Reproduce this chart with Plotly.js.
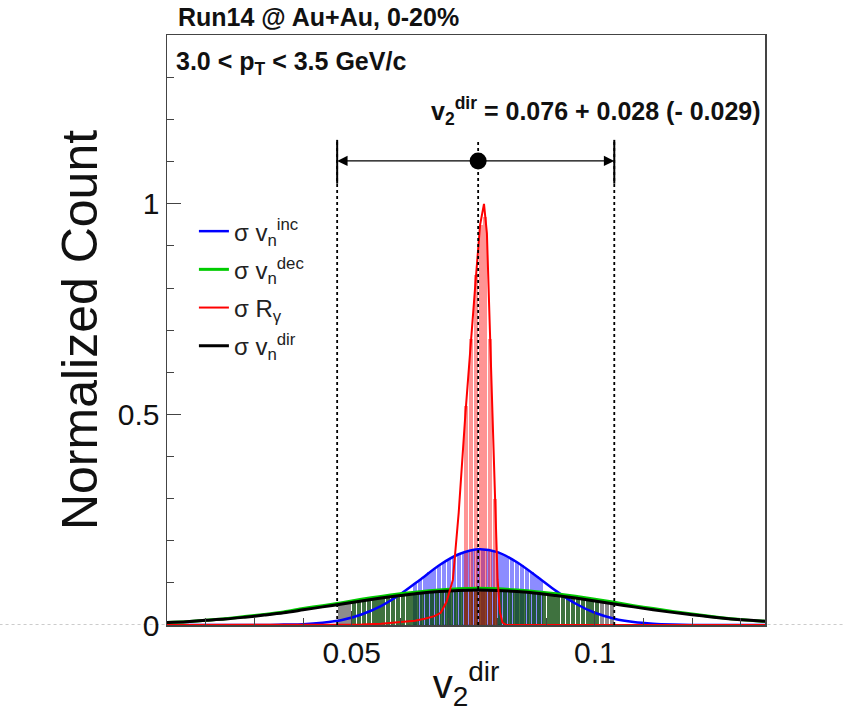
<!DOCTYPE html>
<html><head><meta charset="utf-8">
<script src="https://cdn.plot.ly/plotly-3.0.1.min.js"></script>
<style>body{margin:0;background:#fff}#chart{width:843px;height:717px}</style>
</head><body><div id="chart"></div>
<script>
// ---- data ----
const curveX = [0.012,0.016,0.020,0.024,0.028,0.032,0.036,0.040,0.044,0.048,0.052,0.056,0.060,0.064,0.068,0.072,0.076,0.080,0.084,0.088,0.092,0.096,0.100,0.104,0.108,0.112,0.116,0.120,0.124,0.128,0.132,0.136];
const dirCurve = [0.006,0.008,0.011,0.014,0.0185,0.0235,0.029,0.036,0.043,0.050,0.057,0.064,0.070,0.0756,0.0796,0.0822,0.083,0.0822,0.0796,0.0756,0.070,0.064,0.057,0.050,0.043,0.036,0.030,0.0245,0.019,0.0145,0.011,0.008];
const decCurve = [0.006,0.008,0.011,0.015,0.020,0.025,0.031,0.039,0.046,0.053,0.061,0.068,0.074,0.079,0.083,0.086,0.087,0.086,0.083,0.079,0.074,0.068,0.061,0.054,0.046,0.039,0.032,0.026,0.020,0.015,0.011,0.008];
const incX = [0.012,0.032,0.036,0.040,0.044,0.048,0.052,0.056,0.060,0.064,0.068,0.072,0.076,0.080,0.084,0.088,0.092,0.096,0.100,0.104,0.108,0.112,0.116,0.120,0.135];
const incCurve = [0,0,0.001,0.002,0.0055,0.012,0.025,0.045,0.073,0.107,0.142,0.168,0.180,0.173,0.149,0.116,0.081,0.051,0.029,0.015,0.007,0.003,0.001,0,0];
const rgX = [0.012,0.045,0.052,0.056,0.060,0.063,0.065,0.067,0.0683,0.0695,0.0708,0.0720,0.0734,0.0745,0.0755,0.0764,0.0772,0.0778,0.0784,0.0790,0.0796,0.0800,0.0805,0.0810,0.0818,0.135];
const rgCurve = [0,0,0.001,0.003,0.006,0.010,0.015,0.021,0.029,0.055,0.107,0.267,0.505,0.68,0.82,0.95,1.0,0.93,0.72,0.505,0.267,0.107,0.029,0.006,0,0];

// histogram bins (filled region)
const dirBinX = [0.0475,0.0485,0.0495,0.0505,0.0515,0.0525,0.0535,0.0545,0.0555,0.0565,0.0575,0.0585,0.0595,0.0605,0.0615,0.0625,0.0635,0.0645,0.0655,0.0665,0.0675,0.0685,0.0695,0.0705,0.0715,0.0725,0.0735,0.0745,0.0755,0.0765,0.0775,0.0785,0.0795,0.0805,0.0815,0.0825,0.0835,0.0845,0.0855,0.0865,0.0875,0.0885,0.0895,0.0905,0.0915,0.0925,0.0935,0.0945,0.0955,0.0965,0.0975,0.0985,0.0995,0.1005,0.1015,0.1025,0.1035];
const dirBinY = [0.049,0.051,0.053,0.054,0.056,0.058,0.060,0.061,0.063,0.065,0.066,0.068,0.070,0.071,0.072,0.074,0.075,0.076,0.077,0.078,0.079,0.080,0.081,0.081,0.082,0.082,0.083,0.083,0.083,0.083,0.083,0.083,0.082,0.082,0.081,0.081,0.080,0.079,0.078,0.077,0.076,0.075,0.074,0.072,0.071,0.070,0.068,0.066,0.065,0.063,0.061,0.060,0.058,0.056,0.054,0.053,0.051];
const decBinX = [0.0505,0.0515,0.0525,0.0535,0.0545,0.0555,0.0565,0.0575,0.0585,0.0595,0.0605,0.0615,0.0625,0.0635,0.0645,0.0655,0.0665,0.0675,0.0685,0.0695,0.0705,0.0715,0.0725,0.0735,0.0745,0.0755,0.0765,0.0775,0.0785,0.0795,0.0805,0.0815,0.0825,0.0835,0.0845,0.0855,0.0865,0.0875,0.0885,0.0895,0.0905,0.0915,0.0925,0.0935,0.0945,0.0955,0.0965,0.0975,0.0985,0.0995,0.1005];
const decBinY = [0.058,0.060,0.062,0.064,0.065,0.067,0.069,0.070,0.072,0.074,0.075,0.076,0.078,0.079,0.080,0.081,0.082,0.083,0.084,0.085,0.085,0.086,0.086,0.087,0.087,0.087,0.087,0.087,0.087,0.086,0.086,0.085,0.085,0.084,0.083,0.082,0.081,0.080,0.079,0.078,0.076,0.075,0.074,0.072,0.070,0.069,0.067,0.065,0.064,0.062,0.060];
const incBinX = [0.063,0.064,0.065,0.066,0.067,0.068,0.069,0.070,0.071,0.072,0.073,0.074,0.075,0.076,0.077,0.078,0.079,0.080,0.081,0.082,0.083,0.084,0.085,0.086,0.087,0.088,0.089];
const incBinY = [0.099,0.107,0.116,0.125,0.134,0.142,0.149,0.157,0.163,0.168,0.173,0.176,0.179,0.180,0.180,0.179,0.176,0.173,0.168,0.163,0.157,0.149,0.142,0.134,0.125,0.116,0.107];
const rgBinX = [0.0735,0.0745,0.0755,0.0765,0.0775,0.0785,0.0795];
const rgBinY = [0.52,0.68,0.83,0.95,0.97,0.68,0.30];

// result
const v2dir = 0.076, errPlus = 0.028, errMinus = 0.029;
const arrowLevel = 1.102;

const legendNames = ['σ v<sub>n</sub><sup>inc</sup>','σ v<sub>n</sub><sup>dec</sup>','σ R<sub>γ</sub>','σ v<sub>n</sub><sup>dir</sup>'];

// ---- traces ----
const BW = 0.00084;
const bar = (x, y, color) => ({type:'bar', x, y, width:BW, marker:{color, line:{width:0}}, showlegend:false, hoverinfo:'skip'});
const line = (x, y, color, w, name, rank, shape) => ({type:'scatter', mode:'lines', x, y, name, legendrank:rank, legendgroup:name,
  line:{color, width:w, shape:shape||'spline', smoothing:0.8}});

const lo = v2dir - errMinus, hi = v2dir + errPlus;
const traces = [
  bar(incBinX, incBinY, 'rgba(0,0,255,0.45)'),
  bar(decBinX, decBinY, 'rgba(0,170,0,0.55)'),
  bar(dirBinX, dirBinY, 'rgba(0,0,0,0.45)'),
  bar(rgBinX, rgBinY, 'rgba(255,0,0,0.42)'),
  line(incX, incCurve, '#0000ff', 2.5, legendNames[0], 1),
  line(curveX, decCurve, '#00cc00', 3, legendNames[1], 2),
  line(curveX, dirCurve, '#000000', 3, legendNames[3], 4),
  line(rgX, rgCurve, '#ff0000', 2, legendNames[2], 3, 'linear'),
  {type:'scatter', mode:'markers', x:[v2dir], y:[arrowLevel], marker:{color:'#000', size:17}, showlegend:false, hoverinfo:'skip', cliponaxis:false}
];

const F = 'Liberation Sans, Arial, Helvetica, sans-serif';
const dotted = {color:'#000', width:1.8, dash:'dot'};
const shapes = [
  {type:'line', xref:'paper', yref:'y', x0:-0.28, x1:1.13, y0:0, y1:0, line:{color:'#999', width:1, dash:'dot'}, layer:'below'},
  {type:'line', xref:'x', yref:'y', x0:lo, x1:lo, y0:0, y1:1.152, line:dotted},
  {type:'line', xref:'x', yref:'y', x0:hi, x1:hi, y0:0, y1:1.152, line:dotted},
  {type:'line', xref:'x', yref:'y', x0:v2dir, x1:v2dir, y0:0, y1:1.152, line:dotted},
  {type:'line', xref:'x', yref:'y', x0:lo, x1:lo, y0:1.048, y1:1.152, line:{color:'#000', width:2}},
  {type:'line', xref:'x', yref:'y', x0:hi, x1:hi, y0:1.048, y1:1.152, line:{color:'#000', width:2}}
];
const annotations = [
  {x:lo, y:arrowLevel, ax:v2dir, ay:arrowLevel, xref:'x', yref:'y', axref:'x', ayref:'y', text:'', showarrow:true, arrowhead:2, arrowsize:1.6, arrowwidth:1.3, arrowcolor:'#000'},
  {x:hi, y:arrowLevel, ax:v2dir, ay:arrowLevel, xref:'x', yref:'y', axref:'x', ayref:'y', text:'', showarrow:true, arrowhead:2, arrowsize:1.6, arrowwidth:1.3, arrowcolor:'#000'},
  {xref:'paper', yref:'paper', x:0.015, y:1.03, xanchor:'left', yanchor:'middle', showarrow:false, text:'<b>Run14 @ Au+Au, 0-20%</b>', font:{family:F, size:25, color:'#111'}},
  {xref:'paper', yref:'paper', x:0.012, y:0.953, xanchor:'left', yanchor:'middle', showarrow:false, text:'<b>3.0 &lt; p<sub>T</sub> &lt; 3.5 GeV/c</b>', font:{family:F, size:25, color:'#111'}},
  {xref:'paper', yref:'paper', x:0.997, y:0.872, xanchor:'right', yanchor:'middle', showarrow:false, text:'<b>v<sub>2</sub><sup>dir</sup> = 0.076 + 0.028 (- 0.029)</b>', font:{family:F, size:25, color:'#111'}}
];

const layout = {
  width:843, height:717,
  margin:{l:167, r:78, t:35, b:92},
  paper_bgcolor:'#fff', plot_bgcolor:'#fff',
  barmode:'overlay', bargap:0,
  showlegend:true,
  legend:{x:0.045, y:0.705, xanchor:'left', yanchor:'top', bgcolor:'rgba(0,0,0,0)', font:{family:F, size:24, color:'#222'}, itemwidth:30, tracegroupgap:4},
  font:{family:F, color:'#111'},
  xaxis:{range:[0.012,0.135], showline:true, linecolor:'#444', linewidth:1.5, mirror:true, showgrid:false, zeroline:false,
    tickmode:'array', tickvals:[0.05,0.1], ticktext:['0.05','0.1'], ticks:'inside', ticklen:14, tickcolor:'#444', tickfont:{family:F, size:30, color:'#111'},
    minor:{dtick:0.01, tick0:0, ticks:'inside', ticklen:7, tickcolor:'#444'},
    title:{text:'v<sub>2</sub><sup>dir</sup>', font:{family:F, size:40, color:'#111'}, standoff:2}},
  yaxis:{range:[0,1.401], showline:true, linecolor:'#444', linewidth:1.5, mirror:true, showgrid:false, zeroline:false,
    tickmode:'array', tickvals:[0,0.5,1], ticktext:['0','0.5','1'], ticks:'inside', ticklen:14, tickcolor:'#444', tickfont:{family:F, size:30, color:'#111'},
    minor:{dtick:0.1, tick0:0, ticks:'inside', ticklen:7, tickcolor:'#444'},
    title:{text:'Normalized Count', font:{family:F, size:50, color:'#111'}, standoff:4}}
};

Plotly.newPlot('chart', traces, Object.assign(layout, {shapes, annotations}), {displayModeBar:false, staticPlot:true});
</script>
</body></html>
